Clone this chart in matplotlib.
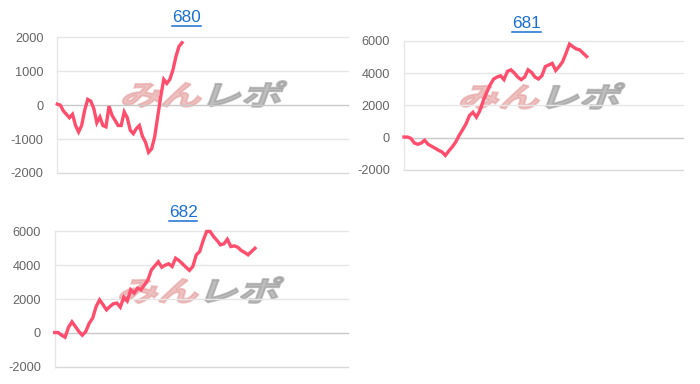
import matplotlib
matplotlib.use("Agg")
import matplotlib.pyplot as plt
from matplotlib.textpath import TextPath
from matplotlib.patches import PathPatch
from matplotlib.font_manager import FontProperties
from matplotlib.transforms import Affine2D
from matplotlib.lines import Line2D

plt.rcParams['font.family'] = ['Liberation Sans', 'DejaVu Sans']
plt.rcParams['axes.unicode_minus'] = False

# ---------------- data ----------------
titles = ["680", "681", "682"]

values_680 = [30, 0, -170, -270, -370, -270, -600, -790, -600, -150, 170, 120, -100,
              -520, -350, -600, -640, -30, -300, -450, -600, -600, -200, -370, -740,
              -840, -690, -600, -920, -1090, -1390, -1290, -940, -350, 250, 760, 640,
              760, 1030, 1430, 1730, 1840]

values_681 = [40, 40, -40, -330, -410, -330, -160, -410, -530, -650, -780, -880, -1100,
              -820, -570, -270, 140, 490, 860, 1370, 1570, 1270, 1670, 2290, 2800, 3270,
              3630, 3750, 3830, 3590, 4100, 4200, 4000, 3750, 3590, 3750, 4200, 4040,
              3750, 3630, 3830, 4400, 4500, 4600, 4160, 4400, 4700, 5220, 5790, 5630,
              5490, 5430, 5220, 5020]

values_682 = [20, 20, -140, -260, 330, 650, 370, 80, -140, 80, 570, 870, 1560, 1950,
              1660, 1360, 1560, 1720, 1760, 1520, 2110, 1880, 2550, 2350, 2640, 2550,
              2840, 3130, 3720, 3960, 4200, 3880, 4000, 4080, 3920, 4410, 4270, 4080,
              3880, 3690, 3920, 4610, 4810, 5460, 5990, 5990, 5690, 5460, 5200, 5260,
              5530, 5100, 5140, 5060, 4870, 4750, 4610, 4810, 5000]

yticks_680 = [-2000, -1000, 0, 1000, 2000]
yticks_681 = [-2000, 0, 2000, 4000, 6000]
yticks_682 = [-2000, 0, 2000, 4000, 6000]

series = [values_680, values_681, values_682]
yticks = [yticks_680, yticks_681, yticks_682]

# ---------------- layout ----------------
W, H = 700, 384
fig = plt.figure(figsize=(W / 100, H / 100), dpi=100)

# axes boxes in pixels: left, top, right, bottom
boxes = [(57.3, 37.3, 348, 173), (404, 40.7, 683, 170), (54.7, 231.3, 347.7, 366.7)]
line_end_px = [182.0, 586.7, 255.0]
title_pos = [(186.5, 17.0), (526.3, 23.0), (183.0, 212.7)]
wm_center = [(195, 94), (533, 96), (192, 290)]

LINE_COLOR = "#ff4d6d"
GRID = "#e6e6e6"
ZERO = "#c8c8c8"
TICK = "#666666"
TITLE_COLOR = "#1a6fd4"


def draw_watermark(cx, cy):
    fp = FontProperties(family="Noto Sans CJK JP", weight="bold")
    size = 28
    stretch = 1.45
    gap = 3
    skew = Affine2D().skew_deg(20, 0)
    p1 = TextPath((0, 0), "みん", size=size, prop=fp)
    p2 = TextPath((0, 0), "レポ", size=size, prop=fp)
    w1 = p1.get_extents().width * stretch
    w2 = p2.get_extents().width * stretch
    total = w1 + w2 + gap
    x0 = cx - total / 2
    y0 = (H - cy) - size * 0.40
    t1 = Affine2D().scale(stretch, 1.0) + skew + Affine2D().translate(x0, y0)
    t2 = Affine2D().scale(stretch, 1.0) + skew + Affine2D().translate(x0 + w1 + gap, y0)
    pp1 = PathPatch(t1.transform_path(p1), facecolor="#e6a1a1", edgecolor="#e6a1a1",
                    lw=1.4, alpha=0.65, transform=None, zorder=1)
    pp2 = PathPatch(t2.transform_path(p2), facecolor="#9a9a9a", edgecolor="#9a9a9a",
                    lw=1.4, alpha=0.65, transform=None, zorder=1)
    fig.patches.extend([pp1, pp2])


for i in range(3):
    l, t, r, b = boxes[i]
    ax = fig.add_axes([l / W, 1 - b / H, (r - l) / W, (b - t) / H])
    vals = series[i]
    n = len(vals)
    step = (line_end_px[i] - l) / (n - 1)
    xmax = (r - l) / step
    xs = list(range(n))
    ax.set_xlim(0, xmax)
    ax.set_ylim(min(yticks[i]), max(yticks[i]))
    ax.set_yticks(yticks[i])
    ax.set_yticklabels([str(v) for v in yticks[i]])
    ax.set_xticks([])
    for s in ["top", "right", "bottom"]:
        ax.spines[s].set_visible(False)
    ax.spines["left"].set_color(GRID)
    ax.spines["left"].set_linewidth(1.0)
    ax.tick_params(axis="y", length=0, pad=10, labelsize=9.2, labelcolor=TICK)
    for v in yticks[i]:
        col = ZERO if v == 0 else ("#d9d9d9" if v == min(yticks[i]) else GRID)
        ax.axhline(v, color=col, lw=1.0, zorder=0, clip_on=False)
    ax.patch.set_alpha(0)
    ax.plot(xs, vals, color=LINE_COLOR, lw=2.4, zorder=3, solid_joinstyle="miter",
            clip_on=False)
    ax.set_zorder(2)

    tx, ty = title_pos[i]
    fig.text(tx / W, 1 - ty / H, titles[i], ha="center", va="center",
             fontsize=12.3, color=TITLE_COLOR)
    draw_watermark(*wm_center[i])

fig.canvas.draw()
renderer = fig.canvas.get_renderer()
for txt in fig.texts:
    bb = txt.get_window_extent(renderer)
    y = bb.y0 - 1.0
    fig.lines.append(Line2D([bb.x0 / W, bb.x1 / W], [y / H, y / H], color=TITLE_COLOR,
                            lw=1.1, transform=fig.transFigure))

fig.savefig("out.png", dpi=100)
